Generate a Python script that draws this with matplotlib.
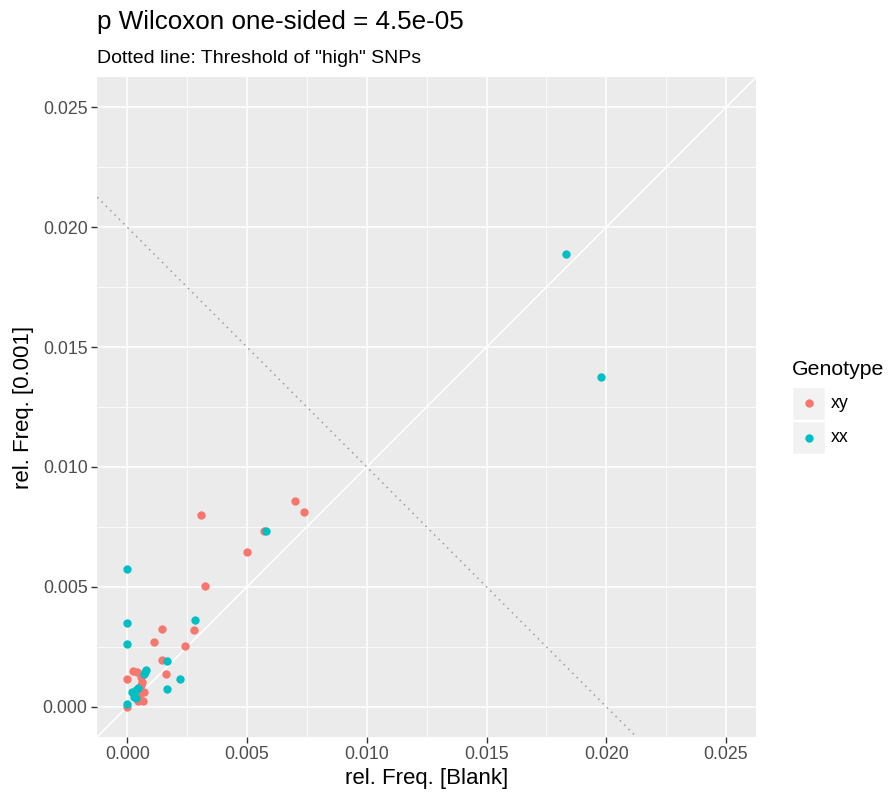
import matplotlib
matplotlib.use('Agg')
from matplotlib import pyplot as plt
from matplotlib.patches import Rectangle
from matplotlib.lines import Line2D
from matplotlib.ticker import MultipleLocator

plt.rcParams['font.family'] = ['Liberation Sans', 'DejaVu Sans']

# rel. Freq. values, genotype xy
xy_blank = [0.00500, 0.00323, 0.00278, 0.00147, 0.00113, 0.00241, 0.00147, 0.00162,
            0.00000, 0.00023, 0.00041, 0.00058, 0.00061, 0.00058, 0.00072, 0.00051,
            0.00065, 0.00044, 0.00051, 0.00000, 0.00702, 0.00737, 0.00570, 0.00306]
xy_001 = [0.00645, 0.00505, 0.00322, 0.00325, 0.00270, 0.00255, 0.00197, 0.00137,
          0.00114, 0.00149, 0.00145, 0.00124, 0.00103, 0.00090, 0.00061, 0.00047,
          0.00026, 0.00026, 0.00040, 0.00000, 0.00858, 0.00814, 0.00733, 0.00800]

# genotype xx
xx_blank = [0.00000, 0.00284, 0.00000, 0.00000, 0.00165, 0.00220, 0.00165, 0.00079,
            0.00069, 0.00073, 0.00044, 0.00037, 0.00019, 0.00030, 0.00037, 0.00000,
            0.00578, 0.01830, 0.01976]
xx_001 = [0.00575, 0.00360, 0.00350, 0.00262, 0.00189, 0.00117, 0.00075, 0.00155,
          0.00137, 0.00145, 0.00078, 0.00068, 0.00061, 0.00040, 0.00036, 0.00013,
          0.00735, 0.01888, 0.01374]

genotypes = ['xy', 'xx']
colors = ['#F8766D', '#00BFC4']
threshold = 0.02
lims = (-0.00125, 0.02625)

fig = plt.figure(figsize=(8.9, 7.98), dpi=100)
ax = fig.add_axes([0.1093, 0.0768, 0.7401, 0.8263])
ax.set_facecolor('#EBEBEB')
for s in ax.spines.values():
    s.set_visible(False)

ax.xaxis.set_major_locator(MultipleLocator(0.005))
ax.yaxis.set_major_locator(MultipleLocator(0.005))
ax.xaxis.set_minor_locator(MultipleLocator(0.0025))
ax.yaxis.set_minor_locator(MultipleLocator(0.0025))
ax.grid(which='major', color='white', lw=1.1)
ax.grid(which='minor', color='white', lw=0.55)
ax.set_axisbelow(True)
ax.tick_params(which='minor', length=0)
ax.tick_params(which='major', length=4, width=1, color='#333333',
               labelcolor='#4D4D4D', labelsize=12.8, pad=3)
ax.xaxis.set_major_formatter(lambda v, p: '%.3f' % v)
ax.yaxis.set_major_formatter(lambda v, p: '%.3f' % v)

# identity line and threshold
ax.axline((0, 0), slope=1, color='white', lw=1.1, zorder=1)
ax.axline((0, threshold), slope=-1, color='#9A9A9A', lw=1.1, ls=(0, (1, 3)), zorder=1)

ax.scatter(xy_blank, xy_001, s=36, color=colors[0], lw=0, zorder=3)
ax.scatter(xx_blank, xx_001, s=36, color=colors[1], lw=0, zorder=3)

ax.set_xlim(lims)
ax.set_ylim(lims)
ax.set_xlabel('rel. Freq. [Blank]', fontsize=16, labelpad=3)
ax.set_ylabel('rel. Freq. [0.001]', fontsize=16, labelpad=6)

fig.text(0.109, 0.972, 'p Wilcoxon one-sided = 4.5e-05', fontsize=18.7, va='center')
fig.text(0.109, 0.927, 'Dotted line: Threshold of "high" SNPs', fontsize=14, va='center')

# legend
fig.text(792 / 890, 1 - 370 / 798, 'Genotype', fontsize=15.3, va='center')
for i, (g, c) in enumerate(zip(genotypes, colors)):
    top = 386.7 + i * 34.3
    fig.patches.append(Rectangle((792 / 890, 1 - (top + 33) / 798), 33 / 890, 33 / 798,
                                 transform=fig.transFigure, facecolor='#F2F2F2',
                                 edgecolor='white', lw=1))
    fig.lines.append(Line2D([809 / 890], [1 - (top + 16.5) / 798], marker='o',
                            markersize=6, color=c, mew=0, transform=fig.transFigure))
    fig.text(831 / 890, 1 - (top + 16.5) / 798, g, fontsize=12.8, va='center')

fig.savefig('out.png')
